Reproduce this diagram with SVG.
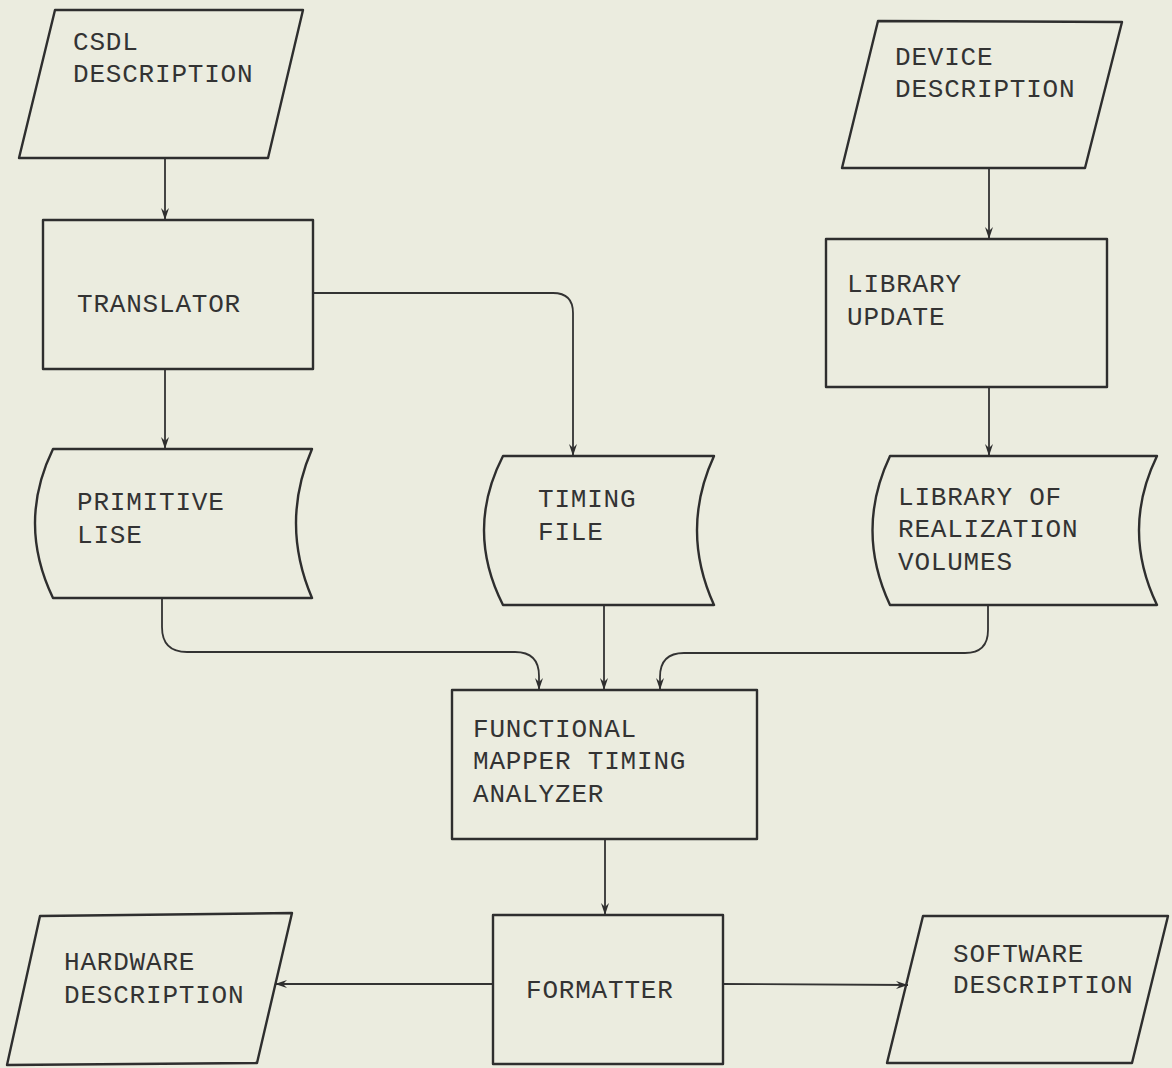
<svg xmlns="http://www.w3.org/2000/svg" width="1172" height="1068" viewBox="0 0 1172 1068">
<defs>
<style>
.shape{fill:none;stroke:#2e2e2e;stroke-width:2.4;stroke-linejoin:round}
.conn{fill:none;stroke:#333;stroke-width:1.8}
.t{font-family:"Liberation Mono","DejaVu Sans Mono",monospace;font-size:26px;fill:#333;letter-spacing:0.8px}
</style>
<marker id="ah" viewBox="0 0 12 10" refX="12" refY="5" markerWidth="12" markerHeight="10" markerUnits="userSpaceOnUse" orient="auto">
<path d="M0,1 L12,5 L0,9 L4,5 Z" fill="#2e2e2e"/>
</marker>
</defs>
<rect width="1172" height="1068" fill="#ebecdf"/>

<g id="connectors">
<path class="conn" d="M165,158 L165,220" marker-end="url(#ah)"/>
<path class="conn" d="M165,369 L165,449" marker-end="url(#ah)"/>
<path class="conn" d="M313,293 L553,293 Q573,293 573,313 L573,456" marker-end="url(#ah)"/>
<path class="conn" d="M989,168 L989,239" marker-end="url(#ah)"/>
<path class="conn" d="M989,387 L989,456" marker-end="url(#ah)"/>
<path class="conn" d="M162,598 L162,627 Q162,652 187,652 L515,652 Q539,652 539,676 L539,690" marker-end="url(#ah)"/>
<path class="conn" d="M604,605 L604,690" marker-end="url(#ah)"/>
<path class="conn" d="M988,605 L988,630 Q988,653 965,653 L684,653 Q660,653 660,677 L660,690" marker-end="url(#ah)"/>
<path class="conn" d="M605,839 L605,915" marker-end="url(#ah)"/>
<path class="conn" d="M493,984 L275,984" marker-end="url(#ah)"/>
<path class="conn" d="M723,984 L908,985" marker-end="url(#ah)"/>
</g>

<g id="csdl">
<path class="shape" d="M55,10 L303,10 L268,158 L19,158 Z"/>
<text class="t" x="73" y="50">CSDL</text>
<text class="t" x="73" y="82">DESCRIPTION</text>
</g>

<g id="device">
<path class="shape" d="M878,21 L1122,22 L1085,168 L842,168 Z"/>
<text class="t" x="895" y="65">DEVICE</text>
<text class="t" x="895" y="97">DESCRIPTION</text>
</g>

<g id="translator">
<rect class="shape" x="43" y="220" width="270" height="149"/>
<text class="t" x="77" y="312">TRANSLATOR</text>
</g>

<g id="libupdate">
<rect class="shape" x="826" y="239" width="281" height="148"/>
<text class="t" x="847" y="292">LIBRARY</text>
<text class="t" x="847" y="325">UPDATE</text>
</g>

<g id="primitive">
<path class="shape" d="M53,449 L312,449 Q280,523 312,598 L53,598 Q17,523 53,449 Z"/>
<text class="t" x="77" y="510">PRIMITIVE</text>
<text class="t" x="77" y="543">LISE</text>
</g>

<g id="timing">
<path class="shape" d="M503,456 L714,456 Q680,530 714,605 L503,605 Q465,530 503,456 Z"/>
<text class="t" x="538" y="507">TIMING</text>
<text class="t" x="538" y="540">FILE</text>
</g>

<g id="library">
<path class="shape" d="M890,456 L1157,456 Q1121,530 1157,605 L890,605 Q855,530 890,456 Z"/>
<text class="t" x="898" y="505">LIBRARY OF</text>
<text class="t" x="898" y="537">REALIZATION</text>
<text class="t" x="898" y="570">VOLUMES</text>
</g>

<g id="mapper">
<rect class="shape" x="452" y="690" width="305" height="149"/>
<text class="t" x="473" y="737">FUNCTIONAL</text>
<text class="t" x="473" y="769">MAPPER TIMING</text>
<text class="t" x="473" y="802">ANALYZER</text>
</g>

<g id="formatter">
<rect class="shape" x="493" y="915" width="230" height="149"/>
<text class="t" x="526" y="998">FORMATTER</text>
</g>

<g id="hardware">
<path class="shape" d="M40,916 L292,913 L257,1063 L7,1065 Z"/>
<text class="t" x="64" y="970">HARDWARE</text>
<text class="t" x="64" y="1003">DESCRIPTION</text>
</g>

<g id="software">
<path class="shape" d="M923,916 L1168,916 L1132,1063 L887,1063 Z"/>
<text class="t" x="953" y="962">SOFTWARE</text>
<text class="t" x="953" y="993">DESCRIPTION</text>
</g>
</svg>
